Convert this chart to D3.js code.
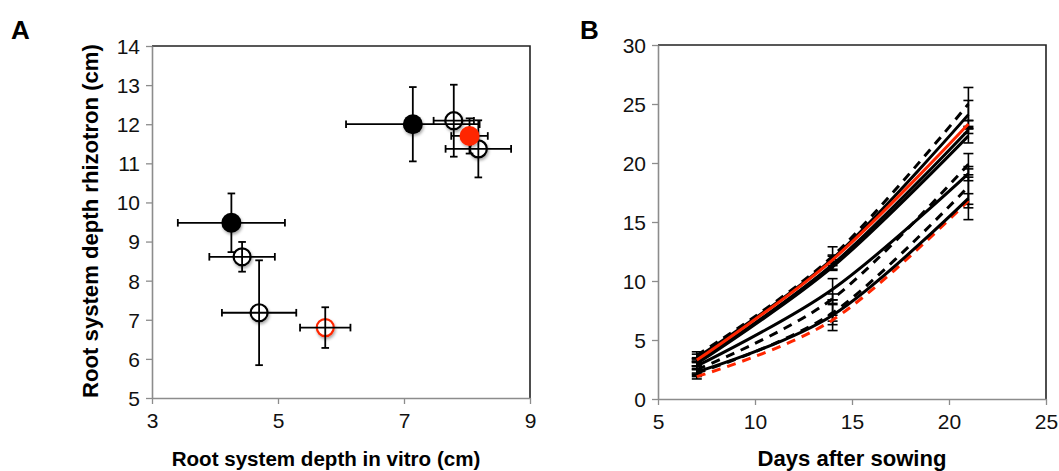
<!DOCTYPE html>
<html>
<head>
<meta charset="utf-8">
<script src="https://cdn.jsdelivr.net/npm/d3@7"></script>
<style>
  body { margin: 0; background: #fff; }
  svg { display: block; font-family: "Liberation Sans", Arial, Helvetica, sans-serif; }
</style>
</head>
<body>
<svg id="chart" width="1059" height="471"></svg>
<script>
// ---- Panel A data: root depth in vitro vs rhizotron (mean +/- error)
const lineIds = ['G1', 'G2', 'G3', 'G4', 'G5', 'G6', 'G7', 'G8'];
const lineGroup = ['filled', 'open', 'refFilled', 'open', 'filled', 'open', 'open', 'refOpen'];
const vitroDepth = [7.14, 7.79, 8.04, 8.18, 4.26, 4.43, 4.70, 5.75];
const vitroErr = [1.06, 0.32, 0.29, 0.52, 0.85, 0.52, 0.59, 0.40];
const rhizoDepth = [12.0, 12.09, 11.70, 11.37, 9.48, 8.61, 7.18, 6.80];
const rhizoErr = [0.95, 0.92, 0.45, 0.73, 0.75, 0.38, 1.34, 0.52];
const aXTicks = [3, 5, 7, 9];
const aYTicks = [5, 6, 7, 8, 9, 10, 11, 12, 13, 14];

// ---- Panel B data: root depth over time
const days = [7, 14, 21];
const seriesIds = ['S1', 'S2', 'S3', 'S4', 'S5', 'S6', 'S7', 'S8', 'S9', 'S10'];
const seriesGroup = ['dash', 'solid', 'refSolid', 'solid', 'solid', 'dash', 'solid', 'dash', 'solid', 'refDash'];
const depthS1 = [3.7, 12.1, 25.0];
const depthS2 = [3.5, 11.9, 24.1];
const depthS3 = [3.3, 11.8, 23.3];
const depthS4 = [3.1, 11.4, 22.8];
const depthS5 = [3.0, 11.2, 22.3];
const depthS6 = [2.5, 8.5, 19.9];
const depthS7 = [2.8, 9.3, 19.1];
const depthS8 = [2.2, 7.3, 18.0];
const depthS9 = [2.3, 7.1, 17.0];
const depthS10 = [1.9, 6.7, 16.8];
const errS1 = [0.3, 0.8, 1.4];
const errS2 = [0.3, 0.3, 1.2];
const errS3 = [0.2, 0.3, 0.3];
const errS4 = [0.3, 0.4, 0.3];
const errS5 = [0.2, 0.3, 0.6];
const errS6 = [0.3, 0.4, 0.9];
const errS7 = [0.3, 0.9, 0.6];
const errS8 = [0.3, 0.7, 1.5];
const errS9 = [0.3, 1.3, 1.8];
const errS10 = [0.2, 0.4, 0.6];
const bXTicks = [5, 10, 15, 20, 25];
const bYTicks = [0, 5, 10, 15, 20, 25, 30];

const seriesDepth = [depthS1, depthS2, depthS3, depthS4, depthS5, depthS6, depthS7, depthS8, depthS9, depthS10];
const seriesErr = [errS1, errS2, errS3, errS4, errS5, errS6, errS7, errS8, errS9, errS10];

const RED = '#ff2600';
const AXIS_GRAY = '#8c8c8c';
const FONT_TICK = 21;

const svg = d3.select('#chart');

const defs = svg.append('defs');
const shadow = defs.append('filter').attr('id', 'shadow')
  .attr('x', '-50%').attr('y', '-50%').attr('width', '200%').attr('height', '200%');
shadow.append('feDropShadow')
  .attr('dx', 1).attr('dy', 2).attr('stdDeviation', 1.5)
  .attr('flood-color', '#000').attr('flood-opacity', 0.35);

// shrink/grow a bold title so that it spans the width measured on the figure
const fitTitle = (sel, targetWidth) => {
  sel.attr('font-size', 20);
  const w = sel.node().getComputedTextLength();
  sel.attr('font-size', (20 * targetWidth) / w);
};

// common frame: gray axis lines left/bottom, dark border top/right
const drawFrame = (g, x, y, xTicks, yTicks) => {
  const [x0, x1] = x.range();
  const [y0, y1] = y.range();
  g.append('path')
    .attr('d', `M${x0},${y1}H${x1}V${y0}`)
    .attr('fill', 'none')
    .attr('stroke', '#222')
    .attr('stroke-width', 1.6);

  const yAxis = g.append('g')
    .attr('transform', `translate(${x0},0)`)
    .call(d3.axisLeft(y).tickValues(yTicks).tickFormat(d3.format('d'))
      .tickSize(6).tickSizeOuter(0).tickPadding(6));
  const xAxis = g.append('g')
    .attr('transform', `translate(0,${y0})`)
    .call(d3.axisBottom(x).tickValues(xTicks).tickFormat(d3.format('d'))
      .tickSize(6).tickSizeOuter(0).tickPadding(8));

  [xAxis, yAxis].forEach((a) => {
    a.select('.domain').attr('stroke', AXIS_GRAY).attr('stroke-width', 1.6);
    a.selectAll('.tick line').attr('stroke', AXIS_GRAY).attr('stroke-width', 1.3);
    a.selectAll('.tick text')
      .attr('fill', '#111')
      .attr('font-size', FONT_TICK)
      .attr('font-family', '"Liberation Sans", Arial, sans-serif');
  });
  yAxis.selectAll('.tick text').attr('dy', '0.35em');
  xAxis.selectAll('.tick text').attr('dy', '0.75em');
};

const errorBar = (g, x1, y1, x2, y2, cap, vertical, width) => {
  g.append('line').attr('x1', x1).attr('y1', y1).attr('x2', x2).attr('y2', y2)
    .attr('stroke', '#000').attr('stroke-width', width);
  const ends = [[x1, y1], [x2, y2]];
  ends.forEach(([ex, ey]) => {
    g.append('line')
      .attr('x1', vertical ? ex - cap : ex)
      .attr('x2', vertical ? ex + cap : ex)
      .attr('y1', vertical ? ey : ey - cap)
      .attr('y2', vertical ? ey : ey + cap)
      .attr('stroke', '#000').attr('stroke-width', width);
  });
};

// ================= Panel A =================
const xA = d3.scaleLinear().domain([3, 9]).range([152, 530]);
const yA = d3.scaleLinear().domain([5, 14]).range([398, 46]);
const gA = svg.append('g');
drawFrame(gA, xA, yA, aXTicks, aYTicks);

const pointsA = lineIds.map((id, i) => ({
  id,
  group: lineGroup[i],
  x: vitroDepth[i],
  xe: vitroErr[i],
  y: rhizoDepth[i],
  ye: rhizoErr[i],
}));
const isOpen = (d) => d.group === 'open' || d.group === 'refOpen';
const markerColor = (d) => (d.group.startsWith('ref') ? RED : '#000');

// open markers first, error bars over them, filled markers on top
gA.selectAll('circle.open')
  .data(pointsA.filter(isOpen))
  .join('circle')
  .attr('class', 'open')
  .attr('cx', (d) => xA(d.x))
  .attr('cy', (d) => yA(d.y))
  .attr('r', 8.5)
  .attr('fill', '#fff')
  .attr('stroke', markerColor)
  .attr('stroke-width', 2.2)
  .attr('filter', 'url(#shadow)');

const barsA = gA.append('g');
pointsA.forEach((d) => {
  errorBar(barsA, xA(d.x - d.xe), yA(d.y), xA(d.x + d.xe), yA(d.y), 3.8, false, 1.8);
  errorBar(barsA, xA(d.x), yA(d.y - d.ye), xA(d.x), yA(d.y + d.ye), 3.8, true, 1.8);
});

gA.selectAll('circle.filled')
  .data(pointsA.filter((d) => !isOpen(d)))
  .join('circle')
  .attr('class', 'filled')
  .attr('cx', (d) => xA(d.x))
  .attr('cy', (d) => yA(d.y))
  .attr('r', 10)
  .attr('fill', markerColor)
  .attr('filter', 'url(#shadow)');

const titleAX = gA.append('text')
  .attr('x', 326)
  .attr('y', 466)
  .attr('text-anchor', 'middle')
  .attr('font-weight', 'bold')
  .text('Root system depth in vitro (cm)');
fitTitle(titleAX, 309);

const titleAY = gA.append('text')
  .attr('transform', `translate(98,${(yA.range()[0] + yA.range()[1]) / 2 - 1}) rotate(-90)`)
  .attr('text-anchor', 'middle')
  .attr('font-weight', 'bold')
  .text('Root system depth rhizotron (cm)');
fitTitle(titleAY, 354);

svg.append('text')
  .attr('x', 11).attr('y', 39)
  .attr('font-weight', 'bold').attr('font-size', 26)
  .text('A');

// ================= Panel B =================
const xB = d3.scaleLinear().domain([5, 25]).range([658, 1046]);
const yB = d3.scaleLinear().domain([0, 30]).range([399, 45]);
const gB = svg.append('g');
drawFrame(gB, xB, yB, bXTicks, bYTicks);

const line = d3.line()
  .x((d) => xB(d[0]))
  .y((d) => yB(d[1]))
  .curve(d3.curveCardinal.tension(0));

const seriesB = seriesIds.map((id, i) => ({
  id,
  group: seriesGroup[i],
  pts: days.map((day, j) => [day, seriesDepth[i][j], seriesErr[i][j]]),
}));

// draw order: red dashed underneath, then black, then red solid on top
const order = { refDash: 0, dash: 1, solid: 1, refSolid: 2 };
const sorted = seriesB.slice().sort((a, b) => order[a.group] - order[b.group]);

const barsB = gB.append('g');
seriesB.forEach((s) => {
  s.pts.forEach((p) => {
    errorBar(barsB, xB(p[0]), yB(p[1] - p[2]), xB(p[0]), yB(p[1] + p[2]), 5, true, 1.6);
  });
});

gB.selectAll('path.series')
  .data(sorted)
  .join('path')
  .attr('class', 'series')
  .attr('d', (d) => line(d.pts))
  .attr('fill', 'none')
  .attr('stroke', (d) => (d.group.startsWith('ref') ? RED : '#000'))
  .attr('stroke-width', 3)
  .attr('stroke-dasharray', (d) => (d.group === 'dash' || d.group === 'refDash' ? '9,7' : null))
  .attr('stroke-linecap', 'butt');

const titleBX = gB.append('text')
  .attr('x', 852)
  .attr('y', 466)
  .attr('text-anchor', 'middle')
  .attr('font-weight', 'bold')
  .text('Days after sowing');
fitTitle(titleBX, 189);

svg.append('text')
  .attr('x', 580).attr('y', 39)
  .attr('font-weight', 'bold').attr('font-size', 26)
  .text('B');
</script>
</body>
</html>
